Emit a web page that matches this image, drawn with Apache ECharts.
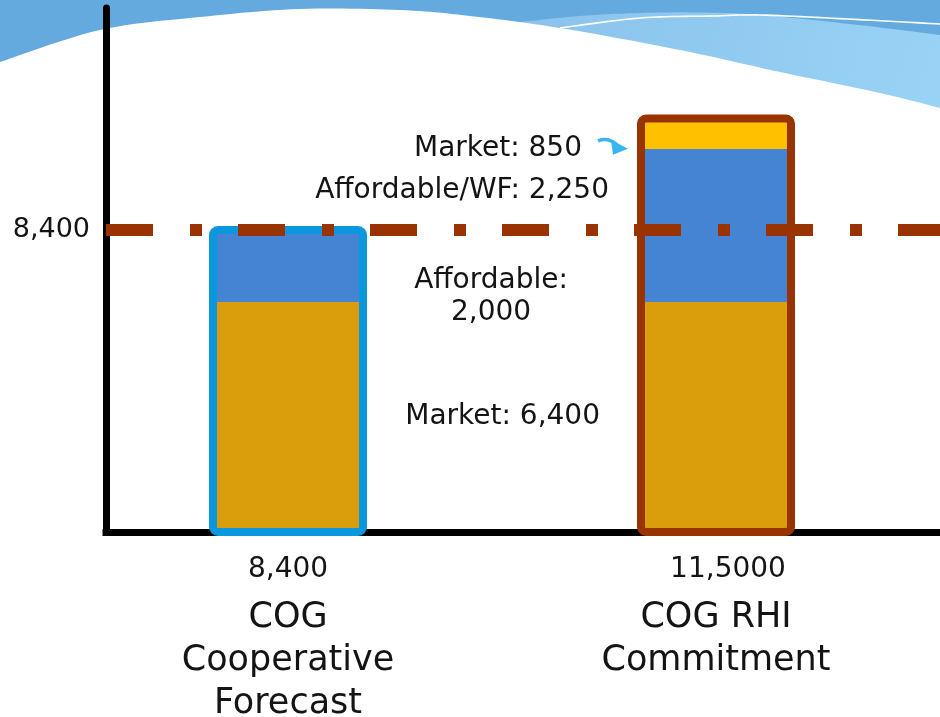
<!DOCTYPE html>
<html><head><meta charset="utf-8">
<script src="https://cdn.jsdelivr.net/npm/echarts@6/dist/echarts.min.js"></script>
<style>html,body{margin:0;padding:0;background:#fff}#c{width:940px;height:717px}</style>
</head><body><div id="c"></div>
<script>
// ---- data ----
const categories = ['COG\nCooperative\nForecast', 'COG RHI\nCommitment'];
const totalLabels = ['8,400', '11,5000'];
const market = [6400, 6400];
const affordable = [2000, 2000];
const affordableWF = [0, 2250];
const marketTop = [0, 850];
const referenceLine = 8400;
const yTickValues = [8400];
const yTickLabels = ['8,400'];

// ---- styles ----
const FONT = 'DejaVu Sans';
const TXT = '#141414';
const cGold = '#DA9E0C', cBlue = '#4584D3', cYellow = '#FFC000';
const outlineColors = ['#0A97DE', '#993300'];
const fmt = v => v.toLocaleString('en-US');
const YMAX = 14574.834;
const BAR_W = 150;

const totals = market.map((v, i) => v + affordable[i] + affordableWF[i] + marketTop[i]);
const lbl = (extra) => Object.assign({show: true, position: 'left', color: TXT, fontFamily: FONT, fontSize: 28}, extra);

const chart = echarts.init(document.getElementById('c'), null, {renderer: 'canvas'});

function spline(pts, n) {
  const out = [];
  for (let i = 0; i < pts.length - 1; i++) {
    const p0 = pts[Math.max(i - 1, 0)], p1 = pts[i], p2 = pts[i + 1], p3 = pts[Math.min(i + 2, pts.length - 1)];
    for (let j = 0; j < n; j++) {
      const t = j / n, t2 = t * t, t3 = t2 * t;
      const f = (a, b, c, d) => 0.5 * ((2 * b) + (-a + c) * t + (2 * a - 5 * b + 4 * c - d) * t2 + (-a + 3 * b - 3 * c + d) * t3);
      out.push([f(p0[0], p1[0], p2[0], p3[0]), f(p0[1], p1[1], p2[1], p3[1])]);
    }
  }
  out.push(pts[pts.length - 1]);
  return out;
}
const whiteEdge = spline([[0,62],[100,30],[200,17],[300,9],[400,10],[470,16],[560,28],[680,50],[780,72],[880,93],[940,108]], 12);
const lightTop = spline([[510,23],[580,16],[640,13],[700,12.5],[760,15],[850,24],[940,35]], 12);
const thinLine = spline([[560,28],[640,18],[713,16],[760,15],[847,19],[940,24]], 12);

const bg = [
  {type: 'rect', z: -10, shape: {x: 0, y: 0, width: 940, height: 130}, style: {fill: '#64AADF'}},
  {type: 'polygon', z: -9, shape: {points: lightTop.concat([[940,140],[510,140]])},
   style: {fill: new echarts.graphic.LinearGradient(0, 0, 1, 1, [{offset: 0, color: '#8AC2EC'}, {offset: 1, color: '#99D3F5'}])}},
  {type: 'polyline', z: -8, shape: {points: thinLine}, style: {stroke: '#ffffff', lineWidth: 1.6, fill: null}},
  {type: 'polygon', z: -7, shape: {points: whiteEdge.concat([[940,140],[0,140]])}, style: {fill: '#ffffff'}}
];

const option = {
  backgroundColor: '#ffffff',
  animation: false,
  textStyle: {fontFamily: FONT},
  grid: [
    {left: 74, right: 10, top: 8, bottom: 185, containLabel: false, outerBoundsMode: 'none'},
    {left: 106, right: 0, top: 8, bottom: 185, containLabel: false, outerBoundsMode: 'none'}
  ],
  xAxis: [
    {type: 'category', gridIndex: 0, data: categories,
     axisLine: {show: false}, axisTick: {show: false}, splitLine: {show: false},
     axisLabel: {margin: 11, interval: 0,
       formatter: (v, i) => '{' + (i === 1 ? 'v2' : 'v') + '|' + totalLabels[i] + '}\n' + v.split('\n').map(s => '{n|' + s + '}').join('\n'),
       rich: {
         v: {fontFamily: FONT, fontSize: 28, lineHeight: 53, color: TXT},
         v2: {fontFamily: FONT, fontSize: 28, lineHeight: 53, color: TXT, padding: [0, 0, 0, 24]},
         n: {fontFamily: FONT, fontSize: 35, lineHeight: 43, color: TXT}
       }}},
    {type: 'value', gridIndex: 1, min: 0, max: 1,
     axisLine: {show: true, lineStyle: {color: '#000', width: 7, cap: 'square'}},
     axisTick: {show: false}, axisLabel: {show: false}, splitLine: {show: false}}
  ],
  yAxis: [
    {type: 'value', gridIndex: 0, min: 0, max: YMAX, show: false, splitLine: {show: false}},
    {type: 'value', gridIndex: 1, min: 0, max: YMAX,
     axisLine: {show: true, lineStyle: {color: '#000', width: 7}},
     axisTick: {show: false}, splitLine: {show: false},
     axisLabel: {customValues: yTickValues, margin: 16, color: TXT, fontFamily: FONT, fontSize: 27,
       formatter: v => yTickLabels[yTickValues.indexOf(v)] || ''}}
  ],
  series: [
    {name: 'Market', type: 'bar', stack: 't', xAxisIndex: 0, yAxisIndex: 0, barWidth: BAR_W, z: 2,
     itemStyle: {color: cGold},
     data: market.map((v, i) => i === 1 ? {value: v, label: lbl({distance: 41, offset: [0, 0], formatter: 'Market: ' + fmt(v)})} : v)},
    {name: 'Affordable', type: 'bar', stack: 't', xAxisIndex: 0, yAxisIndex: 0, barWidth: BAR_W, z: 2,
     itemStyle: {color: cBlue},
     data: affordable.map((v, i) => i === 1 ? {value: v, label: lbl({distance: 150, align: 'center', lineHeight: 32, offset: [0, 31], formatter: 'Affordable:\n' + fmt(v)})} : v)},
    {name: 'Affordable/WF', type: 'bar', stack: 't', xAxisIndex: 0, yAxisIndex: 0, barWidth: BAR_W, z: 2,
     itemStyle: {color: cBlue},
     data: affordableWF.map((v, i) => i === 1 ? {value: v, label: lbl({distance: 32, offset: [0, 1], formatter: 'Affordable/WF: ' + fmt(v)})} : v)},
    {name: 'Market top', type: 'bar', stack: 't', xAxisIndex: 0, yAxisIndex: 0, barWidth: BAR_W, z: 2,
     itemStyle: {color: cYellow},
     data: marketTop.map((v, i) => i === 1 ? {value: v, label: lbl({distance: 59, offset: [0, 15], formatter: 'Market: ' + fmt(v)})} : v)},
    {name: 'Outline', type: 'custom', xAxisIndex: 0, yAxisIndex: 0, z: 3,
     encode: {x: 0, y: 1},
     data: totals.map((v, i) => [i, v]),
     renderItem: (params, api) => {
       const i = api.value(0);
       const top = api.coord([i, api.value(1)]);
       const bot = api.coord([i, 0]);
       return {type: 'rect',
         shape: {x: top[0] - BAR_W / 2, y: top[1], width: BAR_W, height: bot[1] - top[1], r: 5},
         style: {fill: null, stroke: outlineColors[i], lineWidth: 8}};
     }},
    {name: 'Reference', type: 'line', xAxisIndex: 1, yAxisIndex: 1, data: [], z: 10,
     markLine: {silent: true, symbol: ['none', 'none'], label: {show: false},
       lineStyle: {color: '#993300', width: 12, type: [47, 37, 12, 36], cap: 'butt'},
       data: [{yAxis: referenceLine}]}}
  ],
  graphic: bg
};
chart.setOption(option);

// arrow pointing from the "Market: 850" label to its segment
const topMid = market[1] + affordable[1] + affordableWF[1] + marketTop[1] / 2;
const p = chart.convertToPixel({gridIndex: 0}, [1, topMid]);
const L = p[0] - BAR_W / 2, Y = p[1] + 12;
const arrowColor = '#38B4F3';
chart.setOption({graphic: bg.concat([
  {type: 'bezierCurve', z: 20, shape: {x1: L - 43, y1: Y - 5, cpx1: L - 33, cpy1: Y - 9, x2: L - 24, y2: Y - 1},
   style: {stroke: arrowColor, lineWidth: 3.5, fill: null}},
  {type: 'polygon', z: 20, shape: {points: [[L - 30, Y - 6], [L - 13, Y + 3], [L - 28, Y + 9]]}, style: {fill: arrowColor}}
])});
</script>
</body></html>
